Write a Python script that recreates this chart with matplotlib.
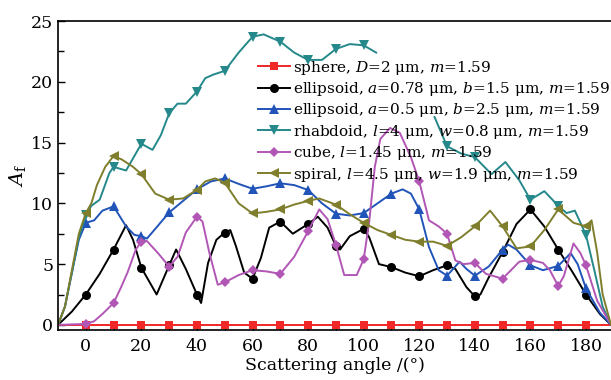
import numpy as np
import matplotlib
matplotlib.use("Agg")
import matplotlib.pyplot as plt

plt.rcParams["font.family"] = ["DejaVu Serif"]
plt.rcParams["mathtext.fontset"] = "dejavuserif"

# sphere, D=2 um
sphere_x = [-10, 0, 10, 20, 30, 40, 50, 60, 70, 80, 90, 100, 110, 120, 130, 140, 150, 160, 170, 180, 189]
sphere_y = [0, 0, 0, 0, 0, 0, 0, 0, 0, 0, 0, 0, 0, 0, 0, 0, 0, 0, 0, 0, 0]

# ellipsoid a=0.78, b=1.5
ell1_x = [-10, -5, 0, 5, 10, 14.5, 17, 20, 25.5, 30, 32.5, 36, 40, 41.5, 44, 47, 50, 52, 54, 57,
          60, 63, 66, 70, 74.5, 80, 83.5, 87, 90, 91.5, 95, 100, 102, 105.5, 110, 115, 120, 125,
          130, 133, 137, 140, 142, 145, 150, 155, 160, 165, 170, 175, 180, 185, 189]
ell1_y = [0, 1.1, 2.5, 4.2, 6.2, 8.2, 7.0, 4.7, 2.5, 4.9, 6.2, 4.6, 2.5, 1.8, 5.1, 7.0, 7.6, 7.8, 6.5, 4.3,
          3.8, 5.5, 8.0, 8.5, 7.5, 8.3, 8.9, 8.0, 6.5, 6.2, 7.3, 7.9, 7.2, 5.0, 4.75, 4.3, 4.0, 4.5,
          4.9, 4.6, 3.1, 2.35, 2.5, 3.9, 6.0, 8.3, 9.5, 8.1, 6.2, 4.4, 2.5, 0.9, 0]

# ellipsoid a=0.5, b=2.5
ell2_x = [-10, -7.5, -5, -2.5, 0, 3, 6, 10, 14.5, 17.5, 20, 22, 25, 30, 35, 40, 45, 50, 55, 60,
          65, 70, 75, 80, 85, 90, 95, 100, 105, 110, 114, 117, 120, 123.5, 127, 130, 134.5, 137,
          140, 145, 150, 152, 155, 160, 164.5, 170, 174.5, 177, 180, 185, 189]
ell2_y = [0, 1.5, 4.3, 7.0, 8.4, 8.6, 9.4, 9.75, 8.1, 7.4, 7.3, 7.1, 7.9, 9.25, 10.2, 11.15, 11.8, 12.05, 11.6, 11.2,
          11.4, 11.65, 11.5, 11.1, 10.0, 9.15, 9.0, 9.2, 10.0, 10.8, 11.15, 10.8, 9.5, 6.4, 4.5, 4.05, 5.2, 4.6,
          4.05, 4.8, 6.2, 6.6, 6.2, 4.9, 4.5, 4.85, 5.9, 5.0, 3.0, 1.0, 0]

# rhabdoid l=4, w=0.8 (curve is broken in the original between ~105 and ~125)
rhab_x = [-10, -7.5, -5, -2.5, 0, 2, 5, 8.5, 10, 14.5, 20, 24, 27, 30, 33, 36, 40, 43, 46, 50,
          55, 60, 64, 70, 75, 80, 85, 90, 95, 100, 104.5, 115, 125.5, 130, 135, 140, 146, 151, 156,
          160, 165, 170, 173, 176, 180, 183, 186, 189]
rhab_y = [0, 1.5, 4.3, 7.2, 9.0, 9.8, 10.3, 12.5, 13.0, 12.7, 14.9, 14.4, 15.6, 17.4, 18.2, 18.2, 19.2, 20.3, 20.6, 20.9,
          22.4, 23.7, 23.9, 23.3, 22.4, 21.8, 21.8, 22.7, 23.1, 23.0, 22.4, np.nan, 17.1, 14.7, 14.1, 13.8, 12.4, 13.4, 11.9,
          10.3, 11.0, 9.8, 9.2, 9.4, 7.4, 4.5, 1.5, 0]

# cube l=1.45
cube_x = [-10, 0, 3, 6, 10, 12.5, 15, 18, 20, 22, 26, 30, 33, 36, 40, 42, 44.5, 47.5, 50, 55,
          60, 65, 70, 75, 80, 84, 87, 90, 93, 97.5, 100, 102, 104, 106, 109.5, 113, 117, 120,
          123.5, 127, 130, 133, 136, 140, 144, 150, 156, 160, 164.5, 167, 170, 172, 175.5, 178,
          180, 184, 189]
cube_y = [0, 0.08, 0.3, 0.9, 1.8, 3.0, 4.3, 6.2, 6.85, 6.9, 5.9, 4.8, 5.6, 7.6, 8.9, 8.5, 5.9, 3.3, 3.5, 4.1,
          4.5, 4.4, 4.2, 5.6, 7.7, 9.5, 8.7, 6.6, 4.1, 4.1, 5.4, 8.5, 13.0, 15.3, 16.2, 15.8, 13.8, 11.8,
          8.6, 8.1, 7.5, 5.3, 5.0, 5.1, 4.2, 3.8, 5.2, 5.35, 5.1, 4.5, 3.2, 4.0, 6.7, 5.9,
          4.9, 2.0, 0]

# spiral l=4.5, w=1.9
spir_x = [-10, -7.5, -5, -2.5, 0, 2, 4, 7, 10, 13, 17, 20, 25, 30, 35, 40, 43, 46.5, 50, 55,
          60, 65, 70, 75, 80, 84, 90, 95, 100, 105, 110, 115, 120, 125, 130, 135, 140, 145.5, 150,
          155, 160, 165, 170, 175.5, 180, 182, 184, 186, 189]
spir_y = [0, 1.5, 4.5, 7.5, 9.2, 10.0, 11.5, 13.0, 13.9, 13.6, 13.0, 12.4, 10.8, 10.3, 10.4, 11.1, 11.8, 12.05, 11.7, 10.0,
          9.17, 9.3, 9.5, 9.9, 10.2, 10.4, 9.9, 9.1, 8.4, 7.8, 7.4, 7.0, 6.85, 6.85, 6.5, 7.2, 8.1, 9.4, 8.1,
          6.3, 6.45, 7.8, 9.5, 8.4, 8.1, 8.6, 6.0, 2.5, 0]

labels = [
    r"sphere, $D$=2 μm, $m$=1.59",
    r"ellipsoid, $a$=0.78 μm, $b$=1.5 μm, $m$=1.59",
    r"ellipsoid, $a$=0.5 μm, $b$=2.5 μm, $m$=1.59",
    r"rhabdoid, $l$=4 μm, $w$=0.8 μm, $m$=1.59",
    r"cube, $l$=1.45 μm, $m$=1.59",
    r"spiral, $l$=4.5 μm, $w$=1.9 μm, $m$=1.59",
]
colors = ["#f02828", "#000000", "#2154b8", "#25888a", "#b256b6", "#7e7e2c"]
markers = ["s", "o", "^", "v", "D", "<"]

series = [(sphere_x, sphere_y), (ell1_x, ell1_y), (ell2_x, ell2_y),
          (rhab_x, rhab_y), (cube_x, cube_y), (spir_x, spir_y)]

fig = plt.figure(figsize=(6.11, 3.80), dpi=100)
ax = fig.add_axes([58 / 611, 1 - 330 / 380, 1 - 58 / 611, (330 - 21) / 380])

for (xs, ys), lab, c, mk in zip(series, labels, colors, markers):
    xs = np.asarray(xs, dtype=float)
    ys = np.asarray(ys, dtype=float)
    # markers only on the 10 degree grid between 0 and 180
    mask = (np.mod(xs, 10) == 0) & (xs >= 0) & (xs <= 180)
    ms = 5.5 if mk in ("s", "D") else 6.5
    if mk == "D":
        ms = 5.5
    ax.plot(xs, ys, color=c, lw=1.4, marker=mk, markersize=ms, markevery=list(mask),
            markeredgewidth=0, label=lab, solid_joinstyle="round")

ax.set_xlim(-10, 189)
ax.set_ylim(-0.42, 25)
ax.set_xticks(np.arange(0, 181, 20))
ax.set_xticks(np.arange(0, 181, 10), minor=True)
ax.set_yticks(np.arange(0, 26, 5))
ax.set_yticks(np.arange(2.5, 25, 5), minor=True)
ax.tick_params(which="both", direction="in", labelsize=12.5, top=False, right=False)
ax.tick_params(which="major", length=5, width=1)
ax.tick_params(which="minor", length=4, width=1)
ax.tick_params(axis="x", pad=6)
ax.spines["right"].set_visible(False)
for s in ("left", "top", "bottom"):
    ax.spines[s].set_linewidth(1.2)

ax.set_xlabel("Scattering angle /(°)", fontsize=12.5, labelpad=1)
ax.set_ylabel(r"$A_\mathrm{f}$", fontsize=14, labelpad=2)

ax.legend(loc="upper left", bbox_to_anchor=(0.362, 0.878), frameon=False, fontsize=11,
          borderpad=0, handlelength=2.1, handletextpad=0.2, labelspacing=0.22,
          borderaxespad=0)

plt.savefig("out.png", dpi=100)
